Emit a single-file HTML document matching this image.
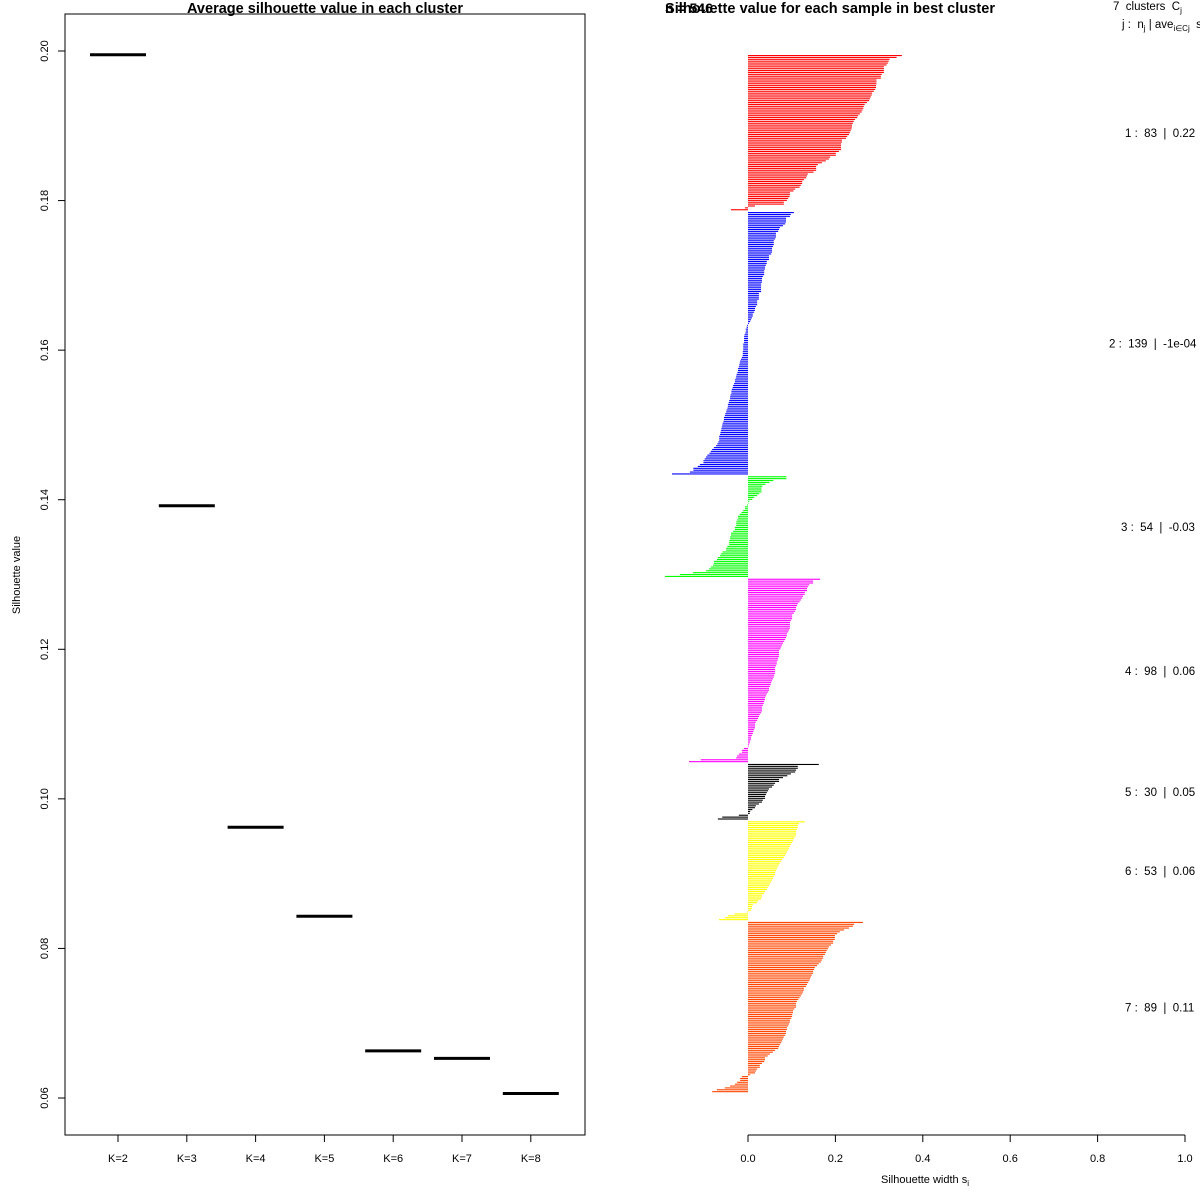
<!DOCTYPE html>
<html><head><meta charset="utf-8"><style>
html,body{margin:0;padding:0;background:#fff;}
svg{display:block;font-family:"Liberation Sans",sans-serif;}
text{white-space:pre;}
</style></head><body>
<svg id="chart" width="1200" height="1200" viewBox="0 0 1200 1200">
<rect x="0" y="0" width="1200" height="1200" fill="#fff"/>
<g id="left">
<rect x="65" y="14" width="520" height="1121" fill="none" stroke="#000" stroke-width="1"/>
<text x="325" y="13" text-anchor="middle" font-weight="bold" font-size="14.5" textLength="276">Average silhouette value in each cluster</text>
<text transform="translate(20,575) rotate(-90)" text-anchor="middle" font-size="11">Silhouette value</text>
</g>
<g id="right">
<text x="665" y="13" font-size="14" font-weight="bold" fill="#000">n = 546</text>
<text x="665" y="13" font-weight="bold" font-size="14.5" textLength="330">Silhouette value for each sample in best cluster</text>
<text x="1113" y="10" font-size="11.5">7  clusters  C<tspan font-size="8" dy="3">j</tspan></text>
<text x="1122" y="28" font-size="11.5">j :  n<tspan font-size="8" dy="3">j</tspan><tspan dy="-3"> | ave</tspan><tspan font-size="8" dy="3">i∈Cj</tspan><tspan dy="-3">  s</tspan><tspan font-size="8" dy="3">i</tspan></text>
<text x="925" y="1183" text-anchor="middle" font-size="11">Silhouette width s<tspan font-size="8" dy="3">i</tspan></text>
</g>
</svg>
<script>
// ---- Left chart data ----
const kLabels = ["K=2","K=3","K=4","K=5","K=6","K=7","K=8"];
const avgSil = [0.1995,0.1392,0.0962,0.0843,0.0663,0.0653,0.0606];
const yTicks = [0.06,0.08,0.10,0.12,0.14,0.16,0.18,0.20];
// ---- Right chart data ----
const clusterNames = ["1","2","3","4","5","6","7"];
const clusterColors = ["#ff0000","#0000ff","#00ff00","#ff00ff","#000000","#ffff00","#ff4500"];
const clusterSummary = ["1 :  83  |  0.22","2 :  139  |  -1e-04","3 :  54  |  -0.03","4 :  98  |  0.06","5 :  30  |  0.05","6 :  53  |  0.06","7 :  89  |  0.11"];
const c1 = [.352,.340,.324,.322,.320,.317,.311,.311,.311,.311,.306,.304,.304,.294,.294,.294,.293,.293,.291,.288,.284,.283,.281,.279,.277,.272,.267,.265,.264,.262,.260,.256,.252,.250,.245,.242,.240,.238,.238,.237,.235,.233,.231,.227,.224,.215,.215,.213,.213,.213,.213,.208,.201,.201,.188,.185,.178,.169,.160,.156,.156,.156,.150,.137,.135,.133,.128,.124,.124,.121,.118,.108,.104,.096,.096,.095,.092,.089,.082,.082,.016,-.007,-.039];
const c2 = [.105,.098,.096,.087,.087,.087,.085,.080,.073,.071,.069,.064,.064,.064,.062,.059,.059,.059,.057,.055,.055,.055,.053,.048,.048,.048,.043,.043,.041,.039,.039,.037,.037,.037,.034,.032,.032,.032,.030,.030,.030,.030,.030,.025,.025,.025,.025,.021,.021,.021,.018,.016,.016,.014,.011,.011,.009,.007,.005,.002,
-.002,-.003,-.005,-.005,-.006,-.008,-.009,-.009,-.009,-.009,-.011,-.011,-.011,-.011,-.012,-.012,-.012,-.014,-.016,-.018,-.019,-.020,-.021,-.023,-.023,-.024,-.026,-.027,-.028,-.030,-.030,-.032,-.034,-.035,-.037,-.038,-.038,-.040,-.041,-.041,-.043,-.044,-.046,-.046,-.047,-.049,-.050,-.052,-.053,-.055,-.055,-.056,-.058,-.059,-.060,-.061,-.062,-.063,-.064,-.066,-.066,-.066,-.068,-.070,-.073,-.078,-.082,-.085,-.088,-.093,-.096,-.099,-.102,-.102,-.110,-.115,-.125,-.125,-.133,-.174];
const c3 = [.088,.088,.058,.049,.040,.033,.031,.031,.031,.026,.021,.014,.010,.003,.001,-.002,-.007,-.007,-.011,-.015,-.019,-.023,-.023,-.025,-.027,-.027,-.027,-.030,-.030,-.034,-.039,-.039,-.041,-.041,-.043,-.043,-.043,-.047,-.050,-.050,-.058,-.062,-.064,-.069,-.071,-.078,-.078,-.080,-.085,-.089,-.096,-.126,-.156,-.190];
const c4 = [.165,.149,.149,.140,.137,.135,.135,.130,.130,.126,.124,.121,.118,.114,.112,.110,.110,.108,.105,.101,.101,.101,.098,.096,.096,.096,.096,.094,.092,.089,.089,.087,.085,.083,.080,.078,.076,.074,.071,.071,.071,.071,.069,.068,.066,.066,.064,.062,.062,.062,.062,.060,.059,.057,.055,.053,.052,.050,.048,.048,.046,.043,.041,.039,.039,.037,.036,.034,.032,.032,.032,.030,.027,.025,.023,.021,.018,.016,.016,.016,.014,.012,.011,.009,.007,.007,.005,.004,.002,.001,-.009,-.014,-.014,-.021,-.025,-.027,-.108,-.135];
const c5 = [.162,.114,.114,.110,.108,.098,.090,.080,.071,.071,.062,.059,.055,.048,.046,.043,.041,.039,.039,.034,.032,.025,.018,.016,.010,.005,.004,-.021,-.059,-.069];
const c6 = [.130,.117,.114,.114,.112,.110,.110,.110,.108,.105,.103,.101,.098,.096,.094,.092,.089,.087,.085,.082,.078,.076,.073,.071,.068,.066,.064,.062,.062,.059,.057,.055,.053,.050,.048,.045,.043,.039,.037,.032,.032,.030,.023,.021,.011,.009,.009,.007,-.002,-.030,-.046,-.053,-.066];
const c7 = [.263,.243,.240,.231,.220,.210,.204,.199,.199,.199,.195,.195,.190,.185,.183,.180,.178,.176,.172,.172,.169,.167,.162,.158,.153,.151,.149,.149,.146,.144,.142,.140,.137,.135,.133,.128,.128,.126,.124,.121,.118,.115,.112,.110,.110,.110,.106,.103,.103,.101,.101,.099,.096,.096,.094,.092,.089,.089,.087,.087,.085,.082,.080,.078,.076,.073,.071,.069,.062,.057,.050,.045,.039,.039,.037,.032,.027,.027,.021,.018,.016,.005,-.014,-.018,-.018,-.025,-.030,-.041,-.053,-.071,-.082];
const xTicks = [0,0.2,0.4,0.6,0.8,1.0];

const NS = "http://www.w3.org/2000/svg";
const L = document.getElementById('left');
const R = document.getElementById('right');
function mk(tag, attrs, parent){const e=document.createElementNS(NS,tag);for(const k in attrs)e.setAttribute(k,attrs[k]);parent.appendChild(e);return e;}

const yL = v => 51 + (0.20 - v) / 0.02 * 149.57;
const xL = i => 118 + i * 68.8;
yTicks.forEach(t => {
  const y = yL(t);
  const tk = mk('line',{x1:58,x2:65,y1:y,y2:y,stroke:'#000'},L);
  
  
  const tx = mk('text',{transform:`translate(48,${y}) rotate(-90)`,'text-anchor':'middle','font-size':11},L);
  tx.textContent = t.toFixed(2);
  
  
});
kLabels.forEach((k,i) => {
  const x = xL(i);
  const tk = mk('line',{x1:x,x2:x,y1:1135,y2:1142,stroke:'#000'},L);
  
  
  const tx = mk('text',{x:x,y:1162,'text-anchor':'middle','font-size':11},L);
  tx.textContent = k;
  
  
  const seg = mk('line',{x1:x-28,x2:x+28,y1:yL(avgSil[i]),y2:yL(avgSil[i]),stroke:'#000','stroke-width':3},L);
  
  
});

const clusters = [c1,c2,c3,c4,c5,c6,c7];
const x0 = 748, xs = 437;
const xR = v => x0 + v * xs;
const total = clusters.reduce((a,c)=>a+c.length,0) + (clusters.length-1)*0.5;
const unit = (1093 - 55) / total;
let pos = 0;
clusters.forEach((c,ci) => {
  const vals = c.slice().sort((a,b)=>b-a);
  const start = pos;
  vals.forEach(v => {
    const y = 55 + pos * unit;
    const x = Math.min(xR(0), xR(v));
    const bar = mk('rect',{x:x,y:y,width:Math.max(0.5,Math.abs(xR(v)-xR(0))),height:1.1,fill:clusterColors[ci]},R);
    
    
    pos += 1;
  });
  const mid = 55 + (start + vals.length/2) * unit;
  const lab = mk('text',{x:(ci===1 ? 1109 : (ci===2 ? 1121 : 1125)),y:mid+4,'font-size':11.5},R);
  lab.textContent = clusterSummary[ci];
  
  
  pos += 0.5;
});
const ax = mk('line',{x1:xR(0),x2:xR(1),y1:1135,y2:1135,stroke:'#000'},R);


xTicks.forEach(t => {
  const x = xR(t);
  const tk = mk('line',{x1:x,x2:x,y1:1135,y2:1142,stroke:'#000'},R);
  
  
  const tx = mk('text',{x:x,y:1162,'text-anchor':'middle','font-size':11},R);
  tx.textContent = t.toFixed(1);
  
  
});
</script>
</body></html>
